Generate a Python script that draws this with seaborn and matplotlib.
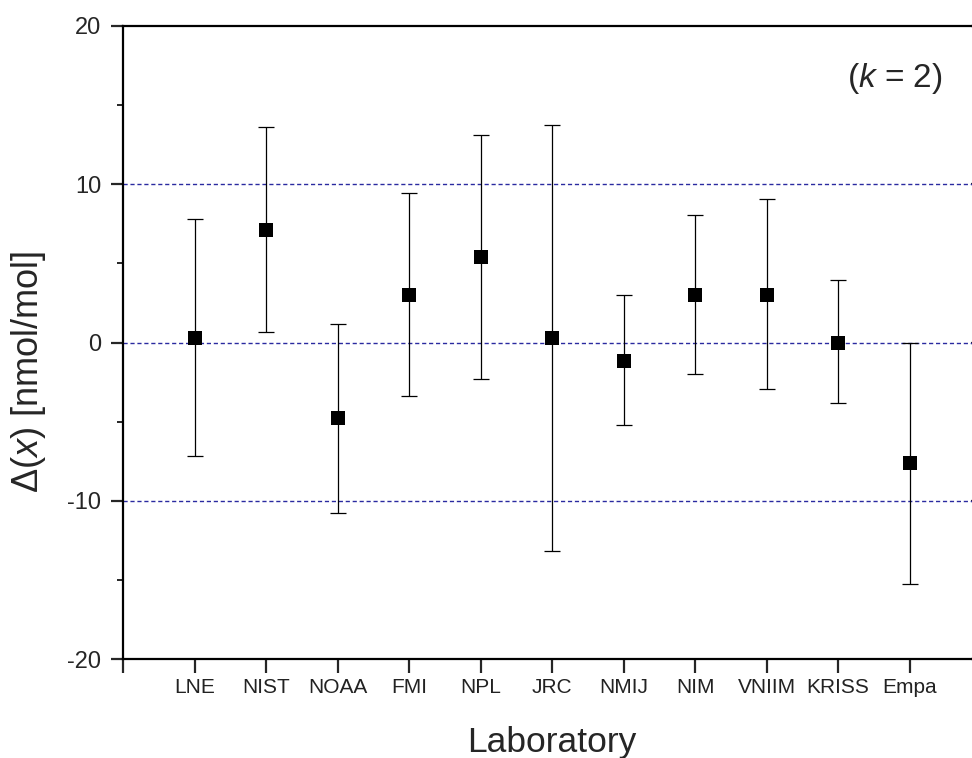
import numpy as np
import matplotlib
matplotlib.use("Agg")
import matplotlib.pyplot as plt
import seaborn as sns
import pandas as pd
from matplotlib.ticker import MultipleLocator

labs = ["LNE", "NIST", "NOAA", "FMI", "NPL", "JRC", "NMIJ", "NIM", "VNIIM", "KRISS", "Empa"]
values = [0.27, 7.1, -4.8, 2.97, 5.42, 0.3, -1.15, 2.97, 2.97, -0.03, -7.64]
upper = [7.82, 13.6, 1.2, 9.45, 13.1, 13.77, 3.0, 8.07, 9.07, 3.92, 0.0]
lower = [-7.2, 0.65, -10.8, -3.35, -2.3, -13.2, -5.2, -2.0, -2.94, -3.84, -15.28]
yticks = [-20, -10, 0, 10, 20]
grid_levels = [-10, 0, 10]

sns.set_style("ticks")
plt.rcParams["font.family"] = ["Liberation Sans", "DejaVu Sans"]
plt.rcParams["mathtext.fontset"] = "custom"
plt.rcParams["mathtext.rm"] = "Liberation Sans"
plt.rcParams["mathtext.it"] = "Liberation Sans:italic"

pos = np.arange(1, len(labs) + 1)
df = pd.DataFrame({"pos": pos, "lab": labs, "val": values,
                   "up": upper, "lo": lower})

fig = plt.figure(figsize=(9.72, 7.58), dpi=100)
ax = fig.add_axes([123/972, 1 - 659/758, (981-123)/972, (659-26)/758])

for g in grid_levels:
    ax.axhline(g, color="#2a2aa0", lw=1.0, ls=(0, (3, 2)), zorder=1)

yerr = np.array([df["val"] - df["lo"], df["up"] - df["val"]])
ax.errorbar(df["pos"], df["val"], yerr=yerr, fmt="none", ecolor="black",
            elinewidth=0.9, capsize=5.8, capthick=0.9, zorder=2)
sns.scatterplot(data=df, x="pos", y="val", marker="s", s=105, color="black",
                edgecolor="black", linewidth=0, ax=ax, zorder=3, legend=False)

ax.set_xlim(0, len(labs) + 1)
ax.set_ylim(-20, 20)
ax.set_xticks(np.arange(0, len(labs) + 2))
ax.set_xticklabels([""] + labs + [""], fontsize=15, color="#222222")
ax.set_yticks(yticks)
ax.set_yticklabels([str(t) for t in yticks], fontsize=17)
ax.yaxis.set_minor_locator(MultipleLocator(5))

for s in ax.spines.values():
    s.set_linewidth(1.6)
    s.set_color("black")
    s.set_visible(True)

ax.tick_params(axis="x", which="major", direction="out", length=10, width=1.6,
               pad=4, bottom=True, top=False)
ax.tick_params(axis="y", which="major", direction="out", length=8.5, width=1.6,
               pad=7, left=True, right=False)
ax.tick_params(axis="y", which="minor", direction="out", length=4, width=1.4,
               left=True, right=False)

# right side inward ticks
axr = ax.secondary_yaxis("right")
axr.set_yticks(yticks)
axr.set_yticklabels([])
axr.yaxis.set_minor_locator(MultipleLocator(5))
axr.tick_params(axis="y", which="major", direction="in", length=7, width=1.6)
axr.tick_params(axis="y", which="minor", direction="in", length=4, width=1.4)
axr.spines["right"].set_linewidth(1.6)

ax.set_xlabel("Laboratory", fontsize=25.5)
ax.xaxis.set_label_coords(0.5, (659 - 752) / 633)
ax.xaxis.label.set_verticalalignment("baseline")
ax.set_ylabel(r"$\mathit{Δ}(\mathit{x})$ [nmol/mol]", fontsize=26)
ax.yaxis.set_label_coords((29 - 123) / 858, (659 - 371.5) / 633)
ax.yaxis.label.set_verticalalignment("center")

ax.text((895 - 123) / 858, (659 - 78) / 633, r"($\mathit{k}$ = 2)",
        transform=ax.transAxes, ha="center", va="center", fontsize=24)

fig.savefig("out.png", dpi=100)
